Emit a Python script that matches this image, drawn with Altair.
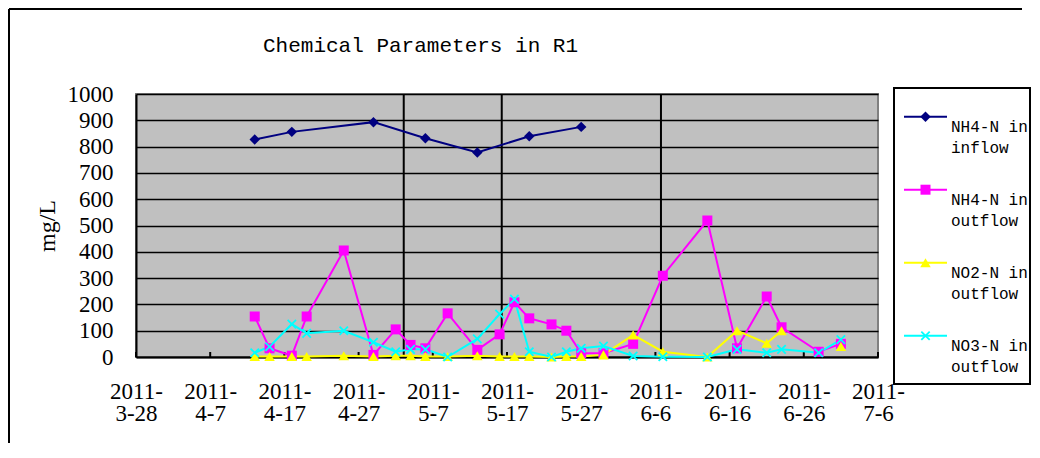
import json
import altair as alt
import pandas as pd

# ---------------- data ----------------
dates = ["2011-04-13", "2011-04-15", "2011-04-18", "2011-04-20", "2011-04-25",
         "2011-04-29", "2011-05-02", "2011-05-04", "2011-05-06", "2011-05-09",
         "2011-05-13", "2011-05-16", "2011-05-18", "2011-05-20", "2011-05-23",
         "2011-05-25", "2011-05-27", "2011-05-30", "2011-06-03", "2011-06-07",
         "2011-06-13", "2011-06-17", "2011-06-21", "2011-06-23", "2011-06-28",
         "2011-07-01"]
nh4_inflow = [827, None, 856, None, None, 893, None, None, 832, None,
              778, None, None, 839, None, None, 875, None, None, None,
              None, None, None, None, None, None]
nh4_outflow = [154, 33, 5, 154, 405, 8, 105, 46, 33, 166,
               27, 86, 208, 147, 124, 100, 14, 14, 50, 309,
               519, 33, 230, 113, 20, 50]
no2_outflow = [2, 2, 2, 2, 5, 2, 5, 5, 2, 2,
               5, 2, 2, 2, 0, 2, 2, 8, 84, 20,
               0, 100, 52, 100, None, 40]
no3_outflow = [16, 39, 125, 90, 100, 56, 20, 29, 29, 0,
               69, 163, 220, 20, 0, 20, 33, 42, 4, 1,
               0, 29, 16, 29, 16, 66]
series_labels = ["NH4-N in\ninflow", "NH4-N in\noutflow",
                 "NO2-N in\noutflow", "NO3-N in\noutflow"]
tick_dates = ["2011-03-28", "2011-04-07", "2011-04-17", "2011-04-27", "2011-05-07",
              "2011-05-17", "2011-05-27", "2011-06-06", "2011-06-16", "2011-06-26",
              "2011-07-06"]
tick_labels = ["2011-3-28", "2011-4-7", "2011-4-17", "2011-4-27", "2011-5-7",
               "2011-5-17", "2011-5-27", "2011-6-6", "2011-6-16", "2011-6-26",
               "2011-7-6"]
phase_lines = ["2011-05-03T02:00", "2011-05-16T07:00", "2011-06-06T18:00"]
y_ticks = [0, 100, 200, 300, 400, 500, 600, 700, 800, 900, 1000]
title_text = "Chemical Parameters in R1"
y_title = "mg/L"

# ---------------- helpers ----------------
BASE = pd.Timestamp(tick_dates[0])


def to_days(lst):
    return [(pd.Timestamp(s) - BASE) / pd.Timedelta(days=1) for s in lst]


days = to_days(dates)
tick_days = to_days(tick_dates)
phase_days = to_days(phase_lines)
day_span = tick_days[-1]

W, H = 742, 263
SERIF = "Liberation Serif"
MONO = "Liberation Mono"

label_parts = [[lab[:5], lab[5:]] for lab in tick_labels]
label_expr = json.dumps(label_parts) + "[round(datum.value / 10)]"

X = alt.X("day:Q",
          scale=alt.Scale(domain=[0, day_span], nice=False, zero=False),
          axis=alt.Axis(values=tick_days, labelExpr=label_expr, grid=False,
                        ticks=False, domainColor="black", domainWidth=2,
                        labelFont=SERIF, labelFontSize=23, labelColor="black",
                        labelFontWeight="normal",
                        labelLineHeight=22, labelPadding=23, labelBaseline="top",
                        labelFlush=False, labelOverlap=False, title=None))
Y = alt.Y("value:Q",
          scale=alt.Scale(domain=[0, 1000], nice=False),
          axis=alt.Axis(values=y_ticks, format="d", grid=True, gridColor="black",
                        gridWidth=1.5,
                        domainColor="black", domainWidth=2, ticks=False,
                        labelFont=SERIF, labelFontSize=23, labelColor="black",
                        labelPadding=23, title=y_title, titleFont=SERIF,
                        titleFontSize=24, titleFontWeight="normal", titleColor="black",
                        titleAngle=270, titleX=-89, titleY=H / 2,
                        titleAlign="center", titleBaseline="middle"))

layers = []

# phase division lines
phase_df = pd.DataFrame({"day": phase_days})
layers.append(alt.Chart(phase_df).mark_rule(color="black", strokeWidth=2).encode(
    x=X, y=alt.value(0), y2=alt.value(H)))

# inner tick marks on x axis
tick_df = pd.DataFrame({"day": tick_days})
layers.append(alt.Chart(tick_df).mark_rule(color="black", strokeWidth=2).encode(
    x=X, y=alt.value(H - 5), y2=alt.value(H)))

X_SHAPE = "M-1,-1L1,1M-1,1L1,-1"
specs = [
    (nh4_inflow, "#000080", "diamond", True, 110, True),
    (nh4_outflow, "#FF00FF", "square", True, 100, True),
    (no2_outflow, "#FFFF00", "triangle-up", True, 110, False),
    (no3_outflow, "#00FFFF", X_SHAPE, False, 70, True),
]

for vals, color, shape, filled, size, connect in specs:
    d = pd.DataFrame({"day": days, "value": vals})
    d["value"] = d["value"].astype("float")
    line_df = d.dropna() if connect else d
    layers.append(alt.Chart(line_df).mark_line(
        color=color, strokeWidth=2, invalid="break-paths-filter-domains").encode(x=X, y=Y))
for vals, color, shape, filled, size, connect in specs:
    d = pd.DataFrame({"day": days, "value": vals}).dropna()
    if filled:
        pm = alt.Chart(d).mark_point(shape=shape, filled=True, size=size, color=color,
                                     opacity=1)
    else:
        pm = alt.Chart(d).mark_point(shape=shape, filled=False, size=size, color=color,
                                     opacity=1, strokeWidth=1.8)
    layers.append(pm.encode(x=X, y=Y))

# chart title
one = pd.DataFrame({"t": [title_text]})
layers.append(alt.Chart(one).mark_text(
    align="left", baseline="middle", font=MONO, fontSize=21, color="black").encode(
    x=alt.value(127), y=alt.value(-48), text="t:N"))

# outer chart-area border (top and left visible)
layers.append(alt.Chart(one).mark_rule(color="black", strokeWidth=2).encode(
    x=alt.value(-127), x2=alt.value(886), y=alt.value(-85)))
layers.append(alt.Chart(one).mark_rule(color="black", strokeWidth=2).encode(
    x=alt.value(-127), y=alt.value(-85), y2=alt.value(349)))

# legend box
layers.append(alt.Chart(one).mark_rect(fill="white", stroke="black", strokeWidth=2).encode(
    x=alt.value(758), x2=alt.value(894), y=alt.value(-6), y2=alt.value(290)))

leg_df = pd.DataFrame({"idx": list(range(len(series_labels))), "label": series_labels})
for i, (vals, color, shape, filled, size, connect) in enumerate(specs):
    ly = 22.7 + 73 * i
    sub = alt.Chart(leg_df).transform_filter(alt.datum.idx == i)
    layers.append(sub.mark_rule(color=color, strokeWidth=2).encode(
        x=alt.value(768), x2=alt.value(811), y=alt.value(ly)))
    if filled:
        pm = sub.mark_point(shape=shape, filled=True, size=size, color=color, opacity=1)
    else:
        pm = sub.mark_point(shape=shape, filled=False, size=size, color=color, opacity=1,
                            strokeWidth=1.8)
    layers.append(pm.encode(x=alt.value(789.5), y=alt.value(ly)))
    layers.append(sub.mark_text(align="left", baseline="middle", lineBreak="\n",
                                lineHeight=20.5, font=MONO, fontSize=16,
                                color="black").encode(
        x=alt.value(815), y=alt.value(ly + 10.3), text="label:N"))

chart = alt.layer(*layers).properties(
    width=W, height=H,
    autosize=alt.AutoSizeParams(type="none"),
    padding={"left": 128, "top": 86, "right": 154, "bottom": 86},
    background="white",
).configure_view(fill="#C0C0C0", stroke="#808080", strokeWidth=2)

chart.save("out.html", embed_options={"renderer": "svg", "actions": False})
